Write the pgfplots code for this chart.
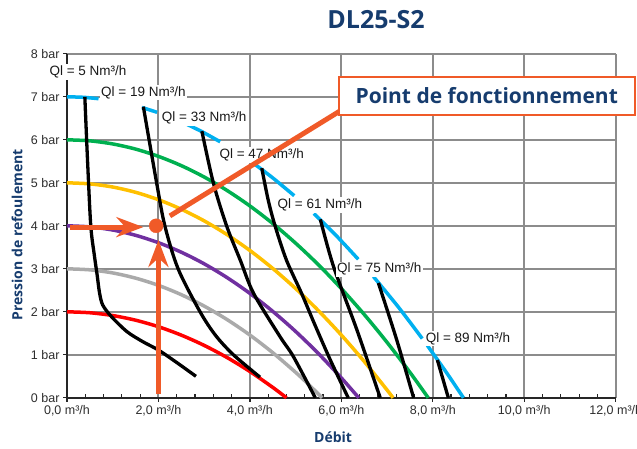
\documentclass[border=0pt]{standalone}
\usepackage{fontspec}
\setmainfont{Liberation Sans}
\newfontfamily\osans{Open Sans}
\usepackage{pgfplots}
\pgfplotsset{compat=1.18}
\usetikzlibrary{arrows.meta}
\definecolor{cred}{RGB}{255,0,0}
\definecolor{cgray}{RGB}{170,170,170}
\definecolor{cpurple}{RGB}{112,48,160}
\definecolor{cyellow}{RGB}{255,192,0}
\definecolor{cgreen}{RGB}{0,176,80}
\definecolor{cblue}{RGB}{0,176,240}
\definecolor{corange}{RGB}{240,90,40}
\definecolor{cnavy}{RGB}{22,60,110}
\definecolor{ctext}{RGB}{45,45,45}
\begin{document}
\begin{tikzpicture}
\begin{axis}[
  scale only axis, width=548.7pt, height=344pt,
  xmin=0, xmax=12, ymin=0, ymax=8,
  axis x line=bottom, axis y line=left,
  axis line style={-, line width=1.5pt, draw=black!85},
  xtick={0,2,4,6,8,10,12}, ytick={0,1,2,3,4,5,6,7,8},
  xticklabels={{0,0 m³/h},{2,0 m³/h},{4,0 m³/h},{6,0 m³/h},{8,0 m³/h},{10,0 m³/h},{12,0 m³/h}},
  yticklabels={0 bar,1 bar,2 bar,3 bar,4 bar,5 bar,6 bar,7 bar,8 bar},
  minor x tick num=4,
  grid=major,
  major grid style={draw=black!45, line width=2pt},
  tick align=outside, major tick length=4pt, minor tick length=4pt,
  tick style={line width=1.2pt, draw=black!85},
  minor x tick style={yshift=4pt},
  ticklabel style={font=\fontsize{12.5}{14}\selectfont, text=ctext},
  clip=false,
]
% pump curves
\addplot[cred, line width=3.5pt, smooth] coordinates {(0,2) (0.5,1.978) (1,1.913) (1.5,1.805) (2,1.653) (2.5,1.457) (3,1.219) (3.5,0.937) (4,0.611) (4.5,0.242) (4.8,0)};
\addplot[cgray, line width=3.5pt, smooth] coordinates {(0,3) (0.5,2.976) (1,2.904) (1.5,2.783) (2,2.615) (2.5,2.398) (3,2.133) (3.5,1.820) (4,1.459) (4.5,1.049) (5,0.592) (5.3,0.294) (5.58,0)};
\addplot[cpurple, line width=3.5pt, smooth] coordinates {(0,4) (0.5,3.975) (1,3.902) (1.5,3.779) (2,3.607) (2.5,3.386) (3,3.116) (3.5,2.796) (4,2.428) (4.5,2.010) (5,1.543) (5.5,1.027) (6,0.462) (6.38,0)};
\addplot[cyellow, line width=3.5pt, smooth] coordinates {(0,5) (0.5,4.975) (1,4.902) (1.5,4.779) (2,4.607) (2.5,4.385) (3,4.115) (3.5,3.795) (4,3.426) (4.5,3.008) (5,2.541) (5.5,2.025) (6,1.459) (6.5,0.845) (7,0.181) (7.13,0)};
\addplot[cgreen, line width=3.5pt, smooth] coordinates {(0,6) (0.5,5.976) (1,5.904) (1.5,5.784) (2,5.615) (2.5,5.399) (3,5.135) (3.5,4.822) (4,4.462) (4.5,4.053) (5,3.596) (5.5,3.092) (6,2.539) (6.5,1.938) (7,1.289) (7.5,0.592) (7.9,0)};
% blue curve, in visible segments
\addplot[cblue, line width=3.5pt, smooth] coordinates {(0,7) (0.35,6.989) (0.69,6.956)};
\addplot[cblue, line width=3.5pt, smooth] coordinates {(1.64,6.750) (1.8,6.698) (1.97,6.639)};
\addplot[cblue, line width=3.5pt, smooth] coordinates {(2.63,6.356) (2.95,6.190) (3.35,5.954)};
\addplot[cblue, line width=3.5pt, smooth] coordinates {(4.12,5.420) (4.5,5.114) (4.97,4.700)};
\addplot[cblue, line width=3.5pt, smooth] coordinates {(5.4,4.285) (5.9,3.758) (6.37,3.221)};
\addplot[cblue, line width=3.5pt, smooth] coordinates {(6.7,2.820) (7.25,2.106) (7.77,1.378)};
\addplot[cblue, line width=3.5pt, smooth] coordinates {(7.88,1.218) (8.3,0.585) (8.67,0)};
% Ql curves
\addplot[black, line width=3.3pt, smooth] coordinates {(0.39,7.0) (0.45,5.5) (0.52,4.0) (0.6,3.3) (0.66,2.85) (0.71,2.45) (0.78,2.16) (0.97,1.89) (1.31,1.54) (1.65,1.31) (2.0,1.11) (2.4,0.82) (2.82,0.5)};
\addplot[black, line width=3.3pt, smooth] coordinates {(1.67,6.77) (1.96,5.0) (2.14,4.0) (2.43,3.0) (2.91,2.0) (3.25,1.45) (3.64,1.0) (4.22,0.48)};
\addplot[black, line width=3.3pt, smooth] coordinates {(2.95,6.2) (3.2,5.0) (3.49,4.0) (3.79,3.2) (4.08,2.43) (4.66,1.42) (4.95,0.96) (5.43,0)};
\addplot[black, line width=3.3pt, smooth] coordinates {(4.26,5.34) (4.4,4.6) (4.55,4.0) (4.8,3.2) (5.13,2.43) (5.4,1.75) (5.75,0.9) (6.15,0)};
\addplot[black, line width=3.3pt, smooth] coordinates {(5.54,4.15) (5.83,3.05) (6.34,1.58) (6.85,0)};
\addplot[black, line width=3.3pt, smooth] coordinates {(6.81,2.67) (7.21,1.35) (7.58,0)};
\addplot[black, line width=3.3pt] coordinates {(8.1,0.88) (8.34,0)};
% labels
\begin{scope}[every node/.style={fill=white, inner sep=1.5pt, font=\fontsize{13.5}{16}\selectfont, text=black!90}]
\node at (axis cs:0.46,7.58) {Ql = 5 Nm³/h};
\node at (axis cs:1.67,7.10) {Ql = 19 Nm³/h};
\node at (axis cs:3.00,6.51) {Ql = 33 Nm³/h};
\node at (axis cs:4.26,5.65) {Ql = 47 Nm³/h};
\node at (axis cs:5.53,4.48) {Ql = 61 Nm³/h};
\node at (axis cs:6.83,2.99) {Ql = 75 Nm³/h};
\node at (axis cs:8.77,1.38) {Ql = 89 Nm³/h};
\end{scope}
% operating point annotation
\addplot[corange, line width=5pt, -{Stealth[length=27pt,width=20pt,inset=9pt]}] coordinates {(0.07,3.97) (1.67,3.97)};
\addplot[corange, line width=5pt, -{Stealth[length=27pt,width=20pt,inset=9pt]}] coordinates {(2.0,0.08) (2.0,3.67)};
\addplot[corange, line width=5pt] coordinates {(2.25,4.23) (5.97,6.67)};
\addplot[only marks, mark=*, mark size=7pt, color=corange] coordinates {(1.95,4.0)};
\node[draw=corange, line width=2pt, fill=white, minimum width=296pt, minimum height=38pt, inner sep=0pt,
  font=\osans\bfseries\fontsize{21}{25}\selectfont, text=cnavy] at (axis cs:9.18,7.02) {Point de fonctionnement};
% titles
\node[font=\osans\bfseries\fontsize{25}{30}\selectfont, text=cnavy] at (axis cs:6.76,8.79) {DL25-S2};
\node[font=\osans\bfseries\fontsize{14}{17}\selectfont, text=cnavy, rotate=90] at (axis cs:-1.09,3.79) {Pression de refoulement};
\node[font=\osans\bfseries\fontsize{14}{17}\selectfont, text=cnavy] at (axis cs:5.82,-0.91) {Débit};
\end{axis}
\pgfresetboundingbox
\path[use as bounding box] (-67pt,-50.2pt) rectangle (570pt,397.8pt);
\end{tikzpicture}
\end{document}
